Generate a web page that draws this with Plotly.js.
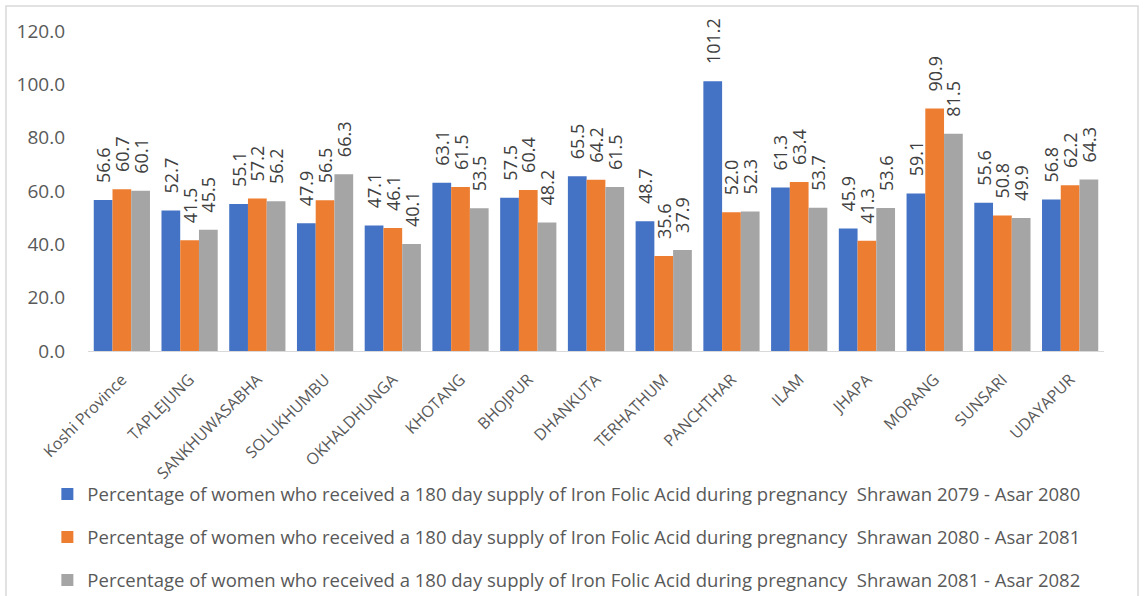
<!DOCTYPE html>
<html>
<head>
<meta charset="utf-8">
<script src="https://cdn.plot.ly/plotly-3.0.1.min.js"></script>
<style>html,body{margin:0;padding:0;background:#fff;}#chart{width:1144px;height:596px;}</style>
</head>
<body>
<div id="chart"></div>
<script>
const categories = ["Koshi Province","TAPLEJUNG","SANKHUWASABHA","SOLUKHUMBU","OKHALDHUNGA","KHOTANG","BHOJPUR","DHANKUTA","TERHATHUM","PANCHTHAR","ILAM","JHAPA","MORANG","SUNSARI","UDAYAPUR"];
const series2079 = [56.6,52.7,55.1,47.9,47.1,63.1,57.5,65.5,48.7,101.2,61.3,45.9,59.1,55.6,56.8];
const series2080 = [60.7,41.5,57.2,56.5,46.1,61.5,60.4,64.2,35.6,52.0,63.4,41.3,90.9,50.8,62.2];
const series2081 = [60.1,45.5,56.2,66.3,40.1,53.5,48.2,61.5,37.9,52.3,53.7,53.6,81.5,49.9,64.3];
const seriesNames = [
  "Percentage of women who received a 180 day supply of Iron Folic Acid during pregnancy  Shrawan 2079 - Asar 2080",
  "Percentage of women who received a 180 day supply of Iron Folic Acid during pregnancy  Shrawan 2080 - Asar 2081",
  "Percentage of women who received a 180 day supply of Iron Folic Acid during pregnancy  Shrawan 2081 - Asar 2082"
];
const yTicks = [0,20,40,60,80,100,120];

const colors = ["#4472C4","#ED7D31","#A5A5A5"];
const FONT = "Open Sans, Liberation Sans, sans-serif";
const allSeries = [series2079, series2080, series2081];
const traces = allSeries.map((vals, i) => ({
  type: "bar",
  x: categories,
  y: vals,
  name: seriesNames[i],
  legendgroup: "g" + i,
  marker: {color: colors[i]},
  texttemplate: "\u00a0\u00a0\u00a0%{y:.1f}",
  textposition: "outside",
  textangle: -90,
  constraintext: "none",
  cliponaxis: false,
  textfont: {family: FONT, size: 18, color: "#404040"},
  hoverinfo: "x+y"
}));

const layout = {
  width: 1144, height: 596,
  margin: {l: 88, r: 40, t: 31, b: 245, autoexpand: false},
  paper_bgcolor: "#ffffff",
  plot_bgcolor: "#ffffff",
  barmode: "group",
  bargap: 0.17,
  bargroupgap: 0,
  font: {family: FONT, color: "#595959"},
  xaxis: {
    type: "category",
    automargin: false,
    tickangle: -45,
    tickfont: {family: FONT, size: 16, color: "#595959"},
    showline: true, linecolor: "#d9d9d9", linewidth: 1,
    ticks: "", showgrid: false,
    ticklabelstandoff: 12
  },
  yaxis: {
    automargin: false,
    range: [0, 120],
    tickvals: yTicks,
    ticktext: yTicks.map(v => v.toFixed(1)),
    tickfont: {family: FONT, size: 19, color: "#595959"},
    showgrid: false, zeroline: false, showline: false, ticks: "",
    ticklabelstandoff: 22
  },
  showlegend: true,
  legend: {
    orientation: "v",
    x: -0.040, xanchor: "left",
    y: -0.389, yanchor: "top",
    traceorder: "grouped",
    tracegroupgap: 16,
    font: {family: FONT, size: 18.5, color: "#595959"},
    bgcolor: "rgba(0,0,0,0)"
  },
  shapes: [{
    type: "rect", xref: "paper", yref: "paper",
    x0: (6-88)/1016, x1: (1138-88)/1016,
    y0: (351-620)/320, y1: (351-6)/320,
    line: {color: "#d9d9d9", width: 1.5}, fillcolor: "rgba(0,0,0,0)", layer: "below"
  }]
};

Plotly.newPlot("chart", traces, layout, {displayModeBar: false, staticPlot: true});
</script>
</body>
</html>
